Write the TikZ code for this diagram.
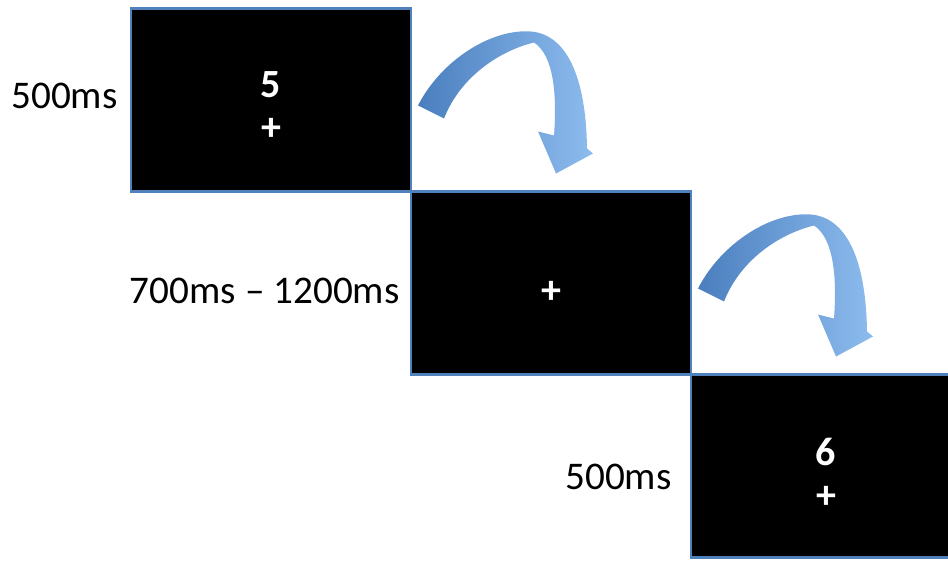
\documentclass[tikz,border=0pt]{standalone}
\usepackage{fontspec}
\setmainfont{Carlito}
\usepackage{tikz}
\usetikzlibrary{positioning}
\definecolor{screenedge}{HTML}{4F81BD}
\definecolor{arrowdeep}{HTML}{4A7EBE}
\definecolor{arrowpale}{HTML}{8DBCEE}

\begin{document}
\begin{tikzpicture}[x=0.5pt, y=-0.5pt,
    screen/.style={rectangle, minimum width=140pt, minimum height=91.5pt, inner sep=0pt, outer sep=0pt,
      fill=black, draw=screenedge, line width=1.2pt},
    glyph/.style={text=white, align=center, inner sep=0pt, font=\fontsize{20}{21.5}\selectfont\bfseries},
    timing/.style={inner sep=0pt, font=\fontsize{19.6}{24}\selectfont},
    turn/.pic={
      \shade [left color=arrowdeep, right color=arrowpale]
        (7,97) .. controls (30,52) and (80,20) .. (120,23)
        .. controls (155,26) and (175,67) .. (176,140)
        -- (182,145) -- (145,165) -- (127,123) -- (143,127)
        .. controls (146,87) and (143,47) .. (123,34)
        .. controls (90,42) and (50,67) .. (33,110) -- cycle;
    }]

    \useasboundingbox (0,0) rectangle (948,562);

    % the three screens, stepping down to the right
    \node (b1) [screen] at (271,100) {};
    \node (b2) [screen, below right=0pt and 0pt of b1] {};
    \node (b3) [screen, below right=0pt and 0pt of b2] {};

    \node (d1) [glyph] at ([yshift=-3pt]b1.center) {5\\+};
    \node (d2) [glyph] at ([yshift=-4.5pt]b2.center) {+};
    \node (d3) [glyph] at ([xshift=-2.5pt, yshift=-3.5pt]b3.center) {6\\+};

    \node (t1) [timing, left=6.5pt of b1, yshift=2pt] {500ms};
    \node (t2) [timing, left=5.5pt of b2, yshift=-4pt] {700ms – 1200ms};
    \node (t3) [timing, left=9.5pt of b3, yshift=-5.5pt] {500ms};

    \pic at (b1.north east) {turn};
    \pic at (b2.north east) {turn};
\end{tikzpicture}
\end{document}
